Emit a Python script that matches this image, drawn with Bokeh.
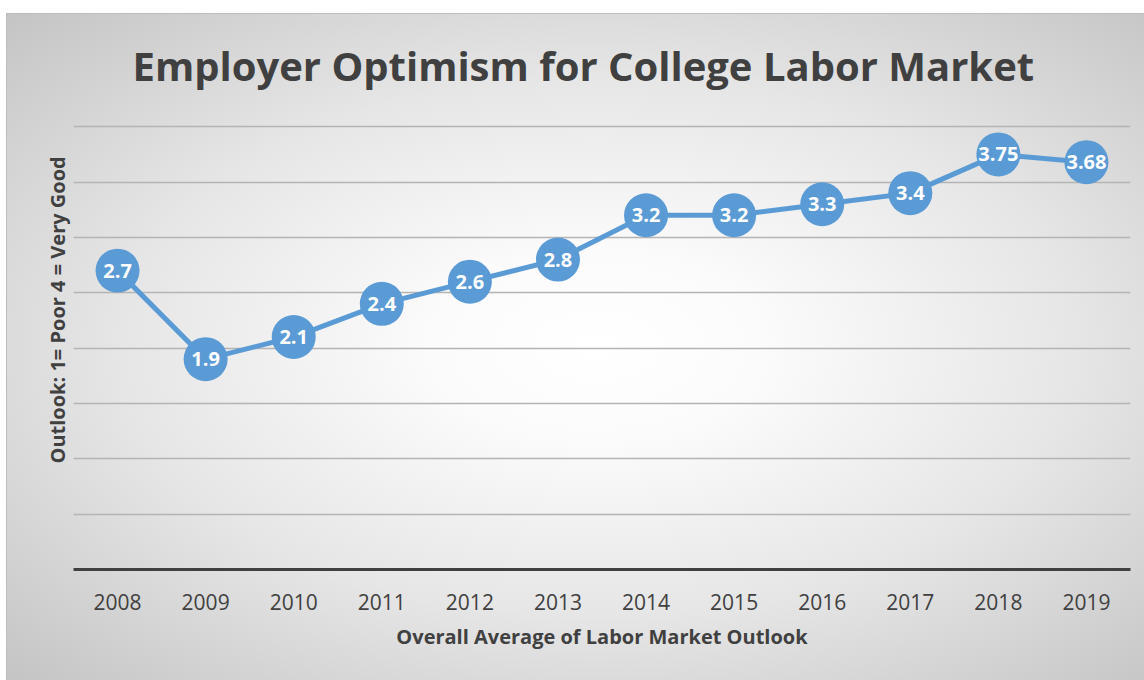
from bokeh.plotting import figure
from bokeh.models import ColumnDataSource, InlineStyleSheet, FactorRange, Range1d, FixedTicker, Title
from bokeh.core.properties import value
from bokeh.embed import file_html
from bokeh.resources import INLINE

years = ["2008", "2009", "2010", "2011", "2012", "2013", "2014", "2015", "2016", "2017", "2018", "2019"]
outlook = [2.7, 1.9, 2.1, 2.4, 2.6, 2.8, 3.2, 3.2, 3.3, 3.4, 3.75, 3.68]
grid_ticks = [0, 0.5, 1.0, 1.5, 2.0, 2.5, 3.0, 3.5, 4.0]

title_text = "Employer Optimism for College Labor Market"
y_title = "Outlook: 1= Poor 4 = Very Good"
x_title = "Overall Average of Labor Market Outlook"

src = ColumnDataSource(dict(year=years, v=outlook, lbl=[str(v) for v in outlook]))

css = InlineStyleSheet(css="""
:host {
  background:
    linear-gradient(#ffffff, #ffffff) 0 0 / 100% 11px no-repeat,
    linear-gradient(#bdbdbd, #bdbdbd) 0 11px / 100% 1px no-repeat,
    linear-gradient(#bdbdbd, #bdbdbd) 0 11px / 1px 100% no-repeat,
    radial-gradient(ellipse farthest-corner at 52% 50%, #ffffff 0%, #fbfbfb 20%, #e6e6e6 57%, #c4c4c4 100%) 0 11px / 100% calc(100% - 11px) no-repeat;
}
""")

p = figure(width=1138, height=678, x_range=FactorRange(*years), y_range=Range1d(0, 4.02),
           output_backend="svg", toolbar_location=None, y_axis_location=None,
           min_border_left=67, min_border_right=14, min_border_top=122, min_border_bottom=111,
           margin=(2, 0, 0, 6), stylesheets=[css])
p.background_fill_color = None
p.border_fill_color = None
p.outline_line_color = None
p.xgrid.grid_line_color = None
p.ygrid.ticker = FixedTicker(ticks=grid_ticks)
p.ygrid.grid_line_color = "#b4b4b4"
p.ygrid.grid_line_width = 1.5

ax = p.xaxis[0]
ax.axis_line_color = "#404040"
ax.axis_line_width = 3
ax.major_tick_line_color = None
ax.minor_tick_line_color = None
ax.major_tick_out = 0
ax.major_tick_in = 0
ax.major_label_text_font = "Open Sans"
ax.major_label_text_font_size = "21px"
ax.major_label_text_color = "#404040"
ax.major_label_standoff = 24
ax.axis_label = x_title
ax.axis_label_text_font = "Open Sans"
ax.axis_label_text_font_style = "bold"
ax.axis_label_text_font_size = "20px"
ax.axis_label_text_color = "#404040"
ax.axis_label_standoff = 10

p.line("year", "v", source=src, line_color="#5b9bd5", line_width=5)
p.scatter("year", "v", source=src, size=44, fill_color="#5b9bd5", line_color=None)
p.text("year", "v", text="lbl", source=src, text_color="white", text_font=value("Open Sans"),
       text_font_style="bold", text_font_size="20px", text_align="center", text_baseline="middle")

p.title = Title(text=title_text, align="left", offset=59, standoff=63,
                text_font="Open Sans", text_font_style="bold", text_font_size="40px",
                text_color="#404040")
p.add_layout(Title(text=y_title, align="left", offset=106, standoff=5,
                   text_font="Open Sans", text_font_style="bold", text_font_size="20px",
                   text_color="#404040"), "left")

open("out.html", "w").write(file_html(p, INLINE))
